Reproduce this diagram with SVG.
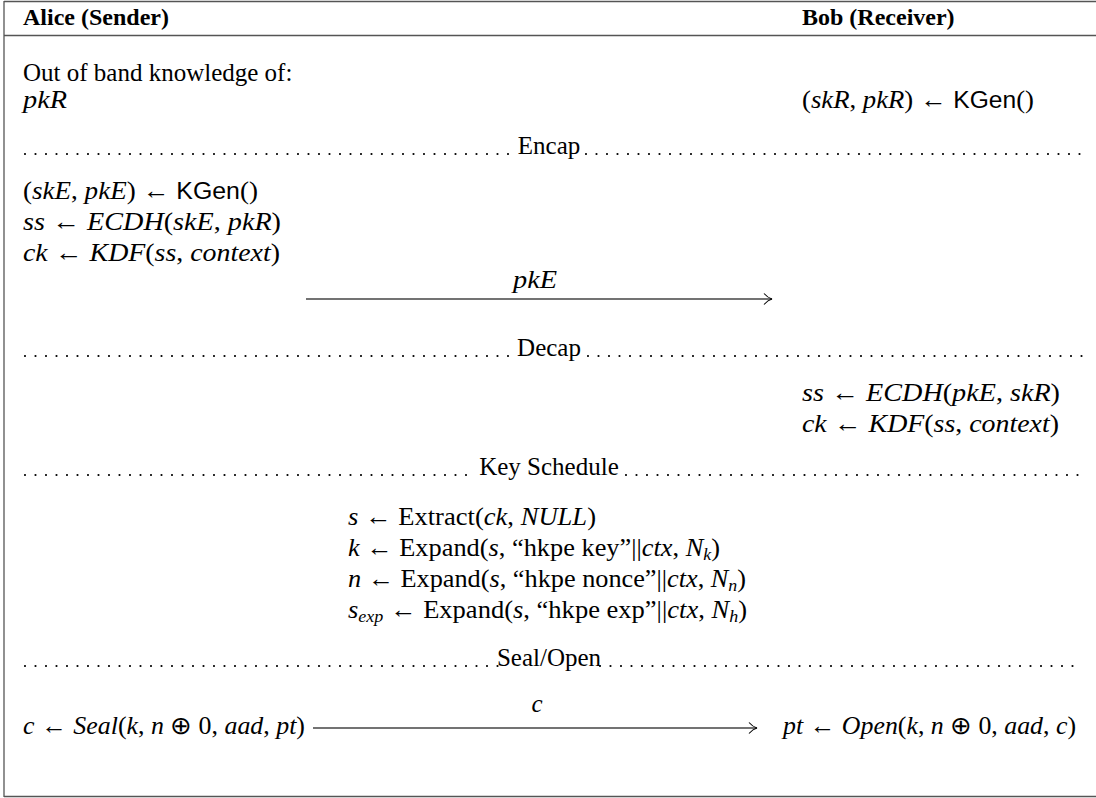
<svg xmlns="http://www.w3.org/2000/svg" width="1096" height="798" viewBox="0 0 1096 798">
<style>
text{font-family:"Liberation Serif","Times New Roman",serif;font-size:25px;fill:#000}
.b{font-weight:bold;font-size:24px}
.i{font-style:italic}
.sf{font-family:"Liberation Sans",Arial,sans-serif;font-size:23px;font-style:normal}
.sub{font-size:17px;font-style:italic}
.frame{stroke:#555;stroke-width:1.3;fill:none}
.dots{stroke:#000;stroke-width:2.2;stroke-linecap:round;stroke-dasharray:0 10.5;fill:none}
.conn{stroke:#444;stroke-width:1.3;fill:none}
</style>
<defs>
<marker id="ah" markerWidth="12" markerHeight="14" refX="10" refY="7" orient="auto" markerUnits="userSpaceOnUse">
<path d="M2,1.5 Q6,6 10,7 Q6,8 2,12.5" fill="none" stroke="#000" stroke-width="1.1"/>
</marker>
</defs>
<rect width="1096" height="798" fill="#fff"/>
<g id="frame">
<line class="frame" x1="4" y1="1.5" x2="1096" y2="1.5"/>
<line class="frame" x1="4" y1="1" x2="4" y2="797"/>
<line class="frame" x1="4" y1="35.5" x2="1096" y2="35.5"/>
<line class="frame" x1="4" y1="796.5" x2="1096" y2="796.5"/>
</g>
<g id="alice-header"><text class="b" x="23" y="25">Alice (Sender)</text></g>
<g id="bob-header"><text class="b" x="802" y="25">Bob (Receiver)</text></g>
<g id="alice-setup">
<text x="23" y="81">Out of band knowledge of:</text>
<text x="23" y="108" class="i" textLength="44" lengthAdjust="spacingAndGlyphs">pkR</text>
</g>
<g id="bob-setup">
<text x="802" y="108" textLength="232" lengthAdjust="spacingAndGlyphs">(<tspan class="i">skR</tspan>, <tspan class="i">pkR</tspan>) ← <tspan class="sf">KGen</tspan>()</text>
</g>
<g id="sec-encap">
<line class="dots" x1="25" y1="154" x2="515" y2="154"/>
<text x="549" y="154" text-anchor="middle">Encap</text>
<line class="dots" x1="586" y1="154" x2="1082" y2="154"/>
</g>
<g id="alice-encap">
<text x="23" y="199" textLength="235" lengthAdjust="spacingAndGlyphs">(<tspan class="i">skE</tspan>, <tspan class="i">pkE</tspan>) ← <tspan class="sf">KGen</tspan>()</text>
<text x="23" y="230" textLength="258" lengthAdjust="spacingAndGlyphs"><tspan class="i">ss</tspan> ← <tspan class="i">ECDH</tspan>(<tspan class="i">skE</tspan>, <tspan class="i">pkR</tspan>)</text>
<text x="23" y="261" textLength="257" lengthAdjust="spacingAndGlyphs"><tspan class="i">ck</tspan> ← <tspan class="i">KDF</tspan>(<tspan class="i">ss</tspan>, <tspan class="i">context</tspan>)</text>
</g>
<g id="sec-decap">
<line class="dots" x1="25" y1="356" x2="512" y2="356"/>
<text x="549" y="356" text-anchor="middle">Decap</text>
<line class="dots" x1="588" y1="356" x2="1082" y2="356"/>
</g>
<g id="bob-decap">
<text x="802" y="401" textLength="258" lengthAdjust="spacingAndGlyphs"><tspan class="i">ss</tspan> ← <tspan class="i">ECDH</tspan>(<tspan class="i">pkE</tspan>, <tspan class="i">skR</tspan>)</text>
<text x="802" y="432" textLength="257" lengthAdjust="spacingAndGlyphs"><tspan class="i">ck</tspan> ← <tspan class="i">KDF</tspan>(<tspan class="i">ss</tspan>, <tspan class="i">context</tspan>)</text>
</g>
<g id="sec-keyschedule">
<line class="dots" x1="25" y1="475" x2="472" y2="475"/>
<text x="549" y="475" text-anchor="middle">Key Schedule</text>
<line class="dots" x1="626" y1="475" x2="1082" y2="475"/>
</g>
<g id="key-schedule">
<text x="348" y="525" textLength="248" lengthAdjust="spacingAndGlyphs"><tspan class="i">s</tspan> ← Extract(<tspan class="i">ck</tspan>, <tspan class="i">NULL</tspan>)</text>
<text x="348" y="556" textLength="372" lengthAdjust="spacingAndGlyphs"><tspan class="i">k</tspan> ← Expand(<tspan class="i">s</tspan>, “hkpe key”||<tspan class="i">ctx</tspan>, <tspan class="i">N</tspan><tspan class="sub" dy="4">k</tspan><tspan dy="-4">)</tspan></text>
<text x="348" y="587" textLength="398" lengthAdjust="spacingAndGlyphs"><tspan class="i">n</tspan> ← Expand(<tspan class="i">s</tspan>, “hkpe nonce”||<tspan class="i">ctx</tspan>, <tspan class="i">N</tspan><tspan class="sub" dy="4">n</tspan><tspan dy="-4">)</tspan></text>
<text x="348" y="618" textLength="399" lengthAdjust="spacingAndGlyphs"><tspan class="i">s</tspan><tspan class="sub" dy="4">exp</tspan><tspan dy="-4"> ← Expand(</tspan><tspan class="i">s</tspan>, “hkpe exp”||<tspan class="i">ctx</tspan>, <tspan class="i">N</tspan><tspan class="sub" dy="4">h</tspan><tspan dy="-4">)</tspan></text>
</g>
<g id="sec-sealopen">
<line class="dots" x1="25" y1="666" x2="498" y2="666"/>
<text x="549" y="666" text-anchor="middle">Seal/Open</text>
<line class="dots" x1="600" y1="666" x2="1082" y2="666"/>
</g>
<g id="alice-seal">
<text x="23" y="734" textLength="282" lengthAdjust="spacingAndGlyphs"><tspan class="i">c</tspan> ← <tspan class="i">Seal</tspan>(<tspan class="i">k</tspan>, <tspan class="i">n</tspan> ⊕ 0, <tspan class="i">aad</tspan>, <tspan class="i">pt</tspan>)</text>
</g>
<g id="bob-open">
<text x="783" y="734" textLength="293" lengthAdjust="spacingAndGlyphs"><tspan class="i">pt</tspan> ← <tspan class="i">Open</tspan>(<tspan class="i">k</tspan>, <tspan class="i">n</tspan> ⊕ 0, <tspan class="i">aad</tspan>, <tspan class="i">c</tspan>)</text>
</g>
<g id="connectors">
<line class="conn" x1="306" y1="299" x2="772" y2="299" marker-end="url(#ah)"/>
<text x="535" y="288" text-anchor="middle" class="i" textLength="44" lengthAdjust="spacingAndGlyphs">pkE</text>
<line class="conn" x1="313" y1="728" x2="757" y2="728" marker-end="url(#ah)"/>
<text x="537" y="712" text-anchor="middle" class="i">c</text>
</g>
</svg>
